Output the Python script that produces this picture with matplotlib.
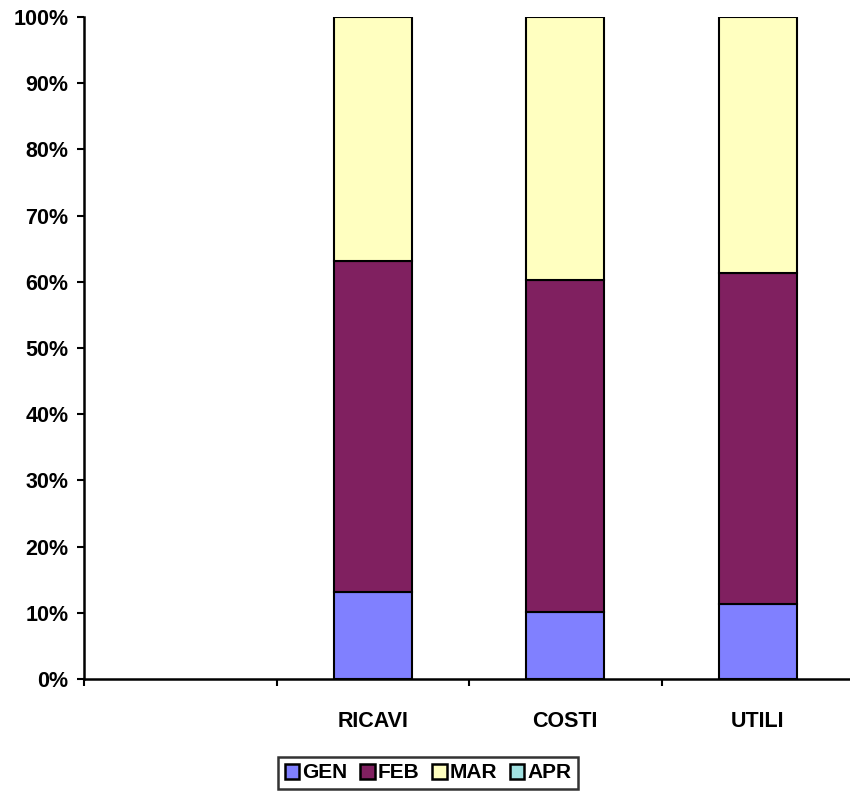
import matplotlib.pyplot as plt
from matplotlib.patches import Patch
from matplotlib.ticker import FixedLocator, PercentFormatter

plt.rcParams['font.family'] = ['Liberation Sans', 'DejaVu Sans']
plt.rcParams['font.weight'] = 'bold'

# data (shares in %, first category is empty)
categories = ["", "RICAVI", "COSTI", "UTILI"]
series_names = ["GEN", "FEB", "MAR", "APR"]
gen = [0, 13.1, 10.1, 11.3]
feb = [0, 50.0, 50.2, 50.0]
mar = [0, 36.9, 39.7, 38.7]
apr = [0, 0, 0, 0]
colors = ["#8080FF", "#802060", "#FFFFC0", "#A0E0E0"]

fig = plt.figure(figsize=(8.5, 7.92), dpi=100)
ax = fig.add_axes([84 / 850, 113 / 792, 770 / 850, 662 / 792])

x = list(range(len(categories)))
bottom = [0] * len(categories)
for name, vals, col in zip(series_names, [gen, feb, mar, apr], colors):
    keep = [i for i, v in enumerate(vals) if v > 0]
    ax.bar([x[i] for i in keep], [vals[i] for i in keep],
           bottom=[bottom[i] for i in keep],
           width=0.405, color=col, edgecolor="black", linewidth=1.5, zorder=2)
    bottom = [b + v for b, v in zip(bottom, vals)]

ax.set_xlim(-0.5, 3.5)
ax.set_ylim(0, 100)
ax.set_yticks([i * 10 for i in range(11)])
ax.yaxis.set_major_formatter(PercentFormatter(decimals=0))
ax.tick_params(axis="y", direction="out", length=5, width=1.5, labelsize=15.5, pad=6)

ax.xaxis.set_major_locator(FixedLocator([-0.5, 0.5, 1.5, 2.5, 3.5]))
ax.xaxis.set_minor_locator(FixedLocator(x))
ax.set_xticklabels([], minor=False)
ax.set_xticklabels(categories, minor=True)
ax.tick_params(axis="x", which="major", direction="out", length=5, width=1.5)
ax.tick_params(axis="x", which="minor", length=0, labelsize=15.5, pad=23)

for s in ["top", "right"]:
    ax.spines[s].set_visible(False)
for s in ["left", "bottom"]:
    ax.spines[s].set_linewidth(1.8)

handles = [Patch(facecolor=c, edgecolor="black", linewidth=1.8, label=n)
           for n, c in zip(series_names, colors)]
leg = fig.legend(handles=handles, loc="center", bbox_to_anchor=(428 / 850, 1 - 773 / 792),
                 ncol=4, frameon=True, fancybox=False, prop={"size": 15, "weight": "bold"},
                 handlelength=0.7, handleheight=0.7, handletextpad=0.15, columnspacing=0.6,
                 borderpad=0.3, borderaxespad=0)
leg.get_frame().set_edgecolor("black")
leg.get_frame().set_linewidth(1.8)

fig.savefig("out.png", dpi=100)
